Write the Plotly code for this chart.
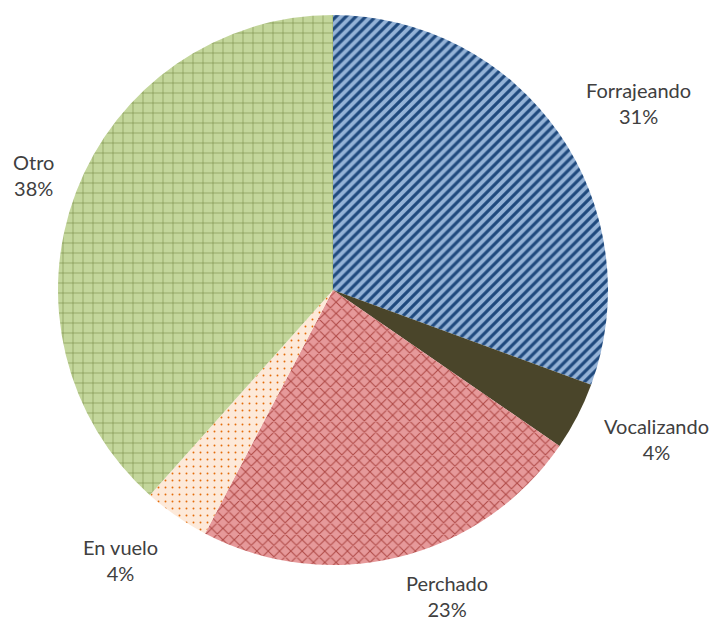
import plotly.graph_objects as go

labels = ["Forrajeando", "Vocalizando", "Perchado", "En vuelo", "Otro"]
values = [30.6, 4.0, 23.1, 3.9, 38.4]
bg_colors = ["#95b3d7", "#4a452a", "#e6999a", "#fde9d9", "#c3d69b"]
fg_colors = ["#1f497d", "#4a452a", "#b04a47", "#e46c0a", "#6b8238"]
shapes = ["/", "", "x", ".", "+"]
sizes = [7, 8, 8, 7, 10]
solid = [0.45, 0.3, 0.25, 0.06, 0.1]

# page body has an 8px margin; layout positions below are in page pixels
OFF = 8
W, H = 718 - OFF, 621 - OFF
label_pos = [(638, 103), (656, 439), (447, 596), (120, 560), (33, 175)]
cx, cy, r = 333, 290, 275

total = sum(values)

fig = go.Figure(go.Pie(
    labels=labels,
    values=values,
    sort=False,
    direction="clockwise",
    rotation=0,
    textinfo="none",
    hoverinfo="label+percent",
    marker=dict(
        colors=bg_colors,
        line=dict(width=0),
        pattern=dict(
            shape=shapes,
            fgcolor=fg_colors,
            bgcolor=bg_colors,
            size=sizes,
            solidity=solid,
            fillmode="replace",
        ),
    ),
    domain=dict(x=[(cx - r - OFF) / W, (cx + r - OFF) / W],
                y=[1 - (cy + r - OFF) / H, 1 - (cy - r - OFF) / H]),
    showlegend=False,
))

annotations = []
for lab, v, (px, py) in zip(labels, values, label_pos):
    pct = round(v / total * 100)
    annotations.append(dict(
        x=(px - OFF) / W, y=1 - (py - OFF) / H, xref="paper", yref="paper",
        text=f"{lab}<br>{pct}%", showarrow=False,
        font=dict(family="Lato, Open Sans, sans-serif", size=20, color="#404040"),
        xanchor="center", yanchor="middle", align="center",
    ))

fig.update_layout(
    width=W, height=H,
    margin=dict(l=0, r=0, t=0, b=0),
    paper_bgcolor="white",
    plot_bgcolor="white",
    annotations=annotations,
)

fig.write_html("out.html")
